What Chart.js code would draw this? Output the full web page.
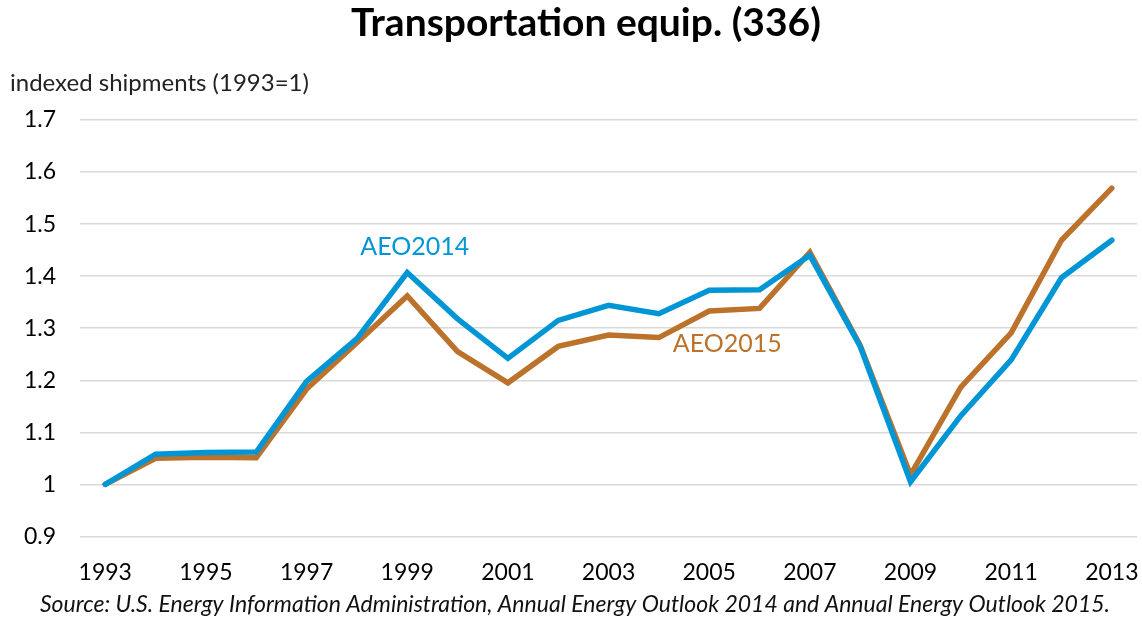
<!DOCTYPE html>
<html>
<head>
<meta charset="utf-8">
<script src="https://cdn.jsdelivr.net/npm/chart.js@4"></script>
<style>
html,body{margin:0;padding:0;background:#fff;}
#wrap{width:1142px;height:619px;position:relative;}
</style>
</head>
<body>
<div id="wrap"><canvas id="c" width="1142" height="619"></canvas></div>
<script>
const years = ['1993','1994','1995','1996','1997','1998','1999','2000','2001','2002','2003','2004','2005','2006','2007','2008','2009','2010','2011','2012','2013'];
const aeo2014 = [1.0,1.058,1.061,1.062,1.198,1.28,1.407,1.318,1.242,1.315,1.344,1.328,1.373,1.374,1.44,1.265,1.005,1.132,1.239,1.397,1.469];
const aeo2015 = [1.0,1.05,1.052,1.051,1.183,1.272,1.362,1.255,1.195,1.265,1.287,1.282,1.333,1.338,1.446,1.267,1.018,1.187,1.291,1.469,1.569];
const yTicks = [0.9,1.0,1.1,1.2,1.3,1.4,1.5,1.6,1.7];
const titleText = 'Transportation equip. (336)';
const yAxisLabel = 'indexed shipments (1993=1)';
const sourceText = 'Source: U.S. Energy Information Administration, Annual Energy Outlook 2014 and Annual Energy Outlook 2015.';
const seriesLabels = [
  {text:'AEO2014', color:'#0096D6', pos:6.15, value:1.457},
  {text:'AEO2015', color:'#BC722B', pos:12.36, value:1.269}
];

const FONT = 'Lato, "Open Sans", sans-serif';

const textPlugin = {
  id:'texts',
  afterDraw(chart){
    const ctx = chart.ctx;
    const xs = chart.scales.x, ys = chart.scales.y;
    ctx.save();
    ctx.textBaseline = 'middle';
    ctx.fillStyle = '#000';
    ctx.font = 'bold 39px ' + FONT;
    ctx.textAlign = 'center';
    ctx.fillText(titleText, 586, 23);
    ctx.font = '24px ' + FONT;
    ctx.textAlign = 'left';
    ctx.fillStyle = '#222';
    ctx.fillText(yAxisLabel, 10, 83);
    ctx.font = 'italic 23px ' + FONT;
    ctx.textAlign = 'center';
    ctx.fillStyle = '#111';
    ctx.fillText(sourceText, 575, 605);
    ctx.font = '25px ' + FONT;
    seriesLabels.forEach(l=>{
      ctx.fillStyle = l.color;
      ctx.textAlign = 'center';
      ctx.fillText(l.text, xs.getPixelForValue(l.pos), ys.getPixelForValue(l.value));
    });
    ctx.restore();
  }
};

new Chart(document.getElementById('c'), {
  type:'line',
  data:{
    labels:years,
    datasets:[
      {label:'AEO2014', data:aeo2014, borderColor:'#0096D6', borderWidth:5.5, pointRadius:0, tension:0, borderCapStyle:'round', borderJoinStyle:'miter'},
      {label:'AEO2015', data:aeo2015, borderColor:'#BC722B', borderWidth:5.5, pointRadius:0, tension:0, borderCapStyle:'round', borderJoinStyle:'miter'}
    ]
  },
  options:{
    responsive:false,
    animation:false,
    layout:{autoPadding:false, padding:{left:0,right:5,top:120,bottom:18}},
    plugins:{legend:{display:false}, title:{display:false}, tooltip:{enabled:false}},
    scales:{
      x:{
        offset:true,
        afterFit(axis){ axis.paddingLeft = 0; axis.paddingRight = 0; },
        grid:{display:false},
        border:{display:false},
        ticks:{
          color:'#000', font:{family:FONT, size:23}, maxRotation:0, autoSkip:false,
          callback:function(v,i){ return i%2===0 ? years[i] : ''; },
          padding:14.5
        }
      },
      y:{
        min:0.9, max:1.7,
        afterBuildTicks(axis){ axis.ticks = yTicks.map(v=>({value:v})); },
        grid:{color:'#d9d9d9', lineWidth:1.5, drawTicks:false},
        border:{display:false},
        ticks:{
          color:'#000', font:{family:FONT, size:23}, padding:24,
          callback:v=> String(+Number(v).toFixed(1))
        }
      }
    }
  },
  plugins:[textPlugin]
});
</script>
</body>
</html>
